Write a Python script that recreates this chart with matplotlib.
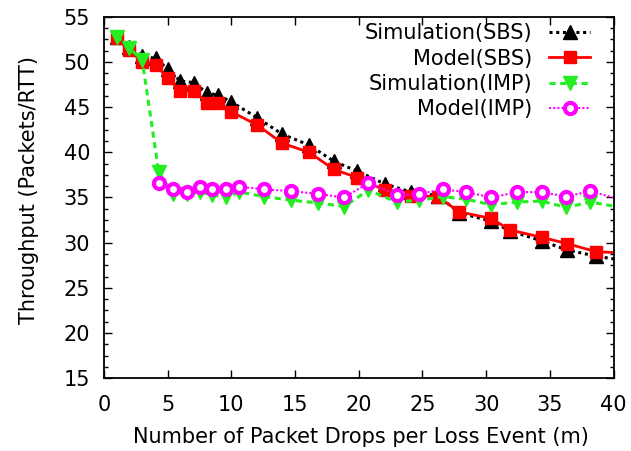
import matplotlib
matplotlib.use("Agg")
import matplotlib.pyplot as plt
from matplotlib.ticker import MultipleLocator

# the source uses a wide sans face; DejaVu Sans matches its text widths best
plt.rcParams['font.family'] = ['DejaVu Sans']

# SBS runs (simulation and model share the m values)
m_sbs = [1.0, 2.0, 3.0, 4.05, 5.0, 5.97, 7.05, 8.05, 8.97, 9.97, 12.05, 14.0, 16.1,
         18.05, 19.9, 22.05, 24.1, 26.2, 27.9, 30.35, 31.9, 34.35, 36.35, 38.65, 41.0]
sim_sbs = [52.7, 51.7, 50.6, 50.4, 49.2, 47.9, 47.7, 46.6, 46.3, 45.6, 43.8, 42.0, 40.8,
           39.0, 37.9, 36.5, 35.6, 35.2, 33.3, 32.4, 31.3, 30.2, 29.2, 28.5, 28.0]
model_sbs = [52.6, 51.3, 50.0, 49.7, 48.2, 46.8, 46.8, 45.5, 45.5, 44.5, 43.0, 41.0, 40.0,
             38.1, 37.2, 35.8, 35.2, 35.1, 33.4, 32.7, 31.4, 30.6, 29.9, 29.0, 28.85]

# IMP runs
m_imp_sim = [1.0, 2.0, 3.0, 4.3, 5.4, 6.5, 7.5, 8.5, 9.6, 10.6, 12.6, 14.7, 16.8,
             18.85, 20.75, 23.0, 24.75, 26.6, 28.45, 30.4, 32.45, 34.35, 36.3, 38.15, 41.0]
sim_imp = [52.8, 51.5, 50.2, 37.8, 35.4, 35.4, 35.6, 35.3, 35.0, 35.6, 35.1, 34.7, 34.4,
           34.0, 35.8, 34.5, 34.7, 35.1, 34.8, 34.2, 34.5, 34.6, 33.9, 34.5, 33.8]
m_imp_model = m_imp_sim[3:]
model_imp = [36.6, 35.9, 35.6, 36.2, 35.9, 35.9, 36.2, 35.9, 35.7, 35.4, 35.0, 36.6,
             35.3, 35.4, 35.9, 35.6, 35.0, 35.6, 35.6, 35.1, 35.7, 34.6]

fig = plt.figure(figsize=(6.31, 4.51), dpi=100)
ax = fig.add_axes([0.1648, 0.1612, 0.8075, 0.8018])

ax.plot(m_sbs, sim_sbs, color='black', linestyle=(0, (1, 1.2)), lw=2.2,
        marker='^', markersize=10, label='Simulation(SBS)')
ax.plot(m_sbs, model_sbs, color='#ff0000', linestyle='-', lw=2,
        marker='s', markersize=8.5, label='Model(SBS)')
ax.plot(m_imp_sim, sim_imp, color='#22ee22', linestyle=(0, (2, 1.5)), lw=2.2,
        marker='v', markersize=10, label='Simulation(IMP)')
ax.plot(m_imp_model, model_imp, color='#ff00ff', linestyle=(0, (1, 1)), lw=1.5,
        marker='o', markersize=8, markerfacecolor='white', markeredgewidth=3,
        label='Model(IMP)')

ax.set_xlim(0, 40)
ax.set_ylim(15, 55)
ax.xaxis.set_major_locator(MultipleLocator(5))
ax.yaxis.set_major_locator(MultipleLocator(5))
ax.yaxis.set_minor_locator(MultipleLocator(1.25))
ax.tick_params(which='both', direction='in', top=True, right=True, labelsize=15)
ax.tick_params(which='major', length=6, width=1)
ax.tick_params(which='minor', length=3, width=1)
ax.tick_params(axis='x', pad=12)
ax.tick_params(axis='y', pad=10)
for s in ax.spines.values():
    s.set_linewidth(1.3)

ax.set_xlabel('Number of Packet Drops per Loss Event (m)', fontsize=15, labelpad=9, x=0.505)
ax.set_ylabel('Throughput (Packets/RTT)', fontsize=15, labelpad=18, y=0.52)

# markerfirst=False puts the samples on the right and right-aligns the labels
leg = ax.legend(loc='upper right', frameon=False, fontsize=15, markerfirst=False,
                handlelength=2.0, labelspacing=0.25, handletextpad=0.8,
                borderaxespad=0.1, bbox_to_anchor=(0.975, 1.01))

fig.savefig('out.png', dpi=100)
